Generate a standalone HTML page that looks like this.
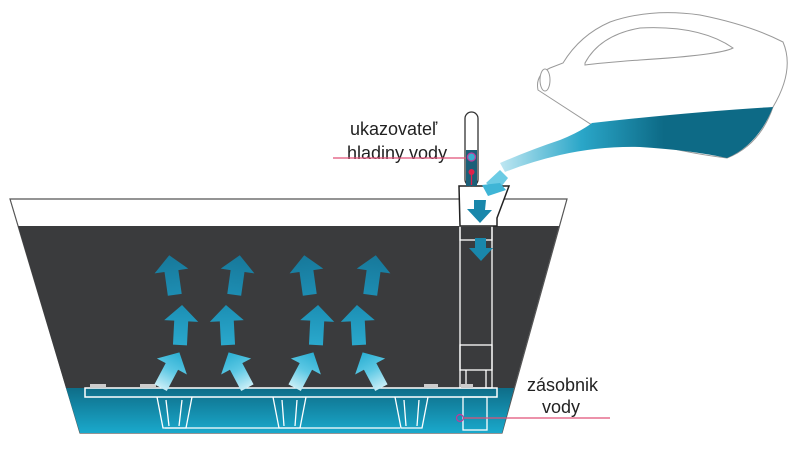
<!DOCTYPE html>
<html><head><meta charset="utf-8"><style>
html,body{margin:0;padding:0;background:#fff;}
svg{display:block}
text{font-family:"Liberation Sans",sans-serif;fill:#222;}
</style></head><body>
<svg width="800" height="457" viewBox="0 0 800 457" xmlns="http://www.w3.org/2000/svg">
<defs>
<linearGradient id="wat" x1="0" y1="0" x2="0" y2="1">
<stop offset="0" stop-color="#0e6d88"/><stop offset="1" stop-color="#1aa9cc"/></linearGradient>
<linearGradient id="arrB" x1="0" y1="1" x2="0" y2="0">
<stop offset="0" stop-color="#c8eef7"/><stop offset="0.5" stop-color="#5cc8e4"/><stop offset="1" stop-color="#2aaed2"/></linearGradient>
<linearGradient id="arrM" x1="0" y1="1" x2="0" y2="0">
<stop offset="0" stop-color="#2aa8cc"/><stop offset="1" stop-color="#1c8fb4"/></linearGradient>
<linearGradient id="arrT" x1="0" y1="1" x2="0" y2="0">
<stop offset="0" stop-color="#1d8db2"/><stop offset="1" stop-color="#17789a"/></linearGradient>
<linearGradient id="can" x1="0" y1="0" x2="1" y2="0">
<stop offset="0" stop-color="#bfe7f2"/><stop offset="0.3" stop-color="#2aa6c8"/><stop offset="0.6" stop-color="#0d6a86"/><stop offset="1" stop-color="#0d6a86"/></linearGradient>
<path id="a" d="M-7,20 L-7,-4 L-17,-4 L0,-20 L17,-4 L7,-4 L7,20 Z"/>
</defs>
<!-- pot -->
<polygon points="10,199 567,199 502,433 80,433" fill="#fff" stroke="#555" stroke-width="1.2"/>
<polygon points="18,226 559,226 514,388 66,388" fill="#3a3b3d"/>
<polygon points="66,388 514,388 502,433 80,433" fill="url(#wat)"/>
<!-- platform -->
<rect x="85" y="388" width="412" height="9" fill="none" stroke="#fff" stroke-width="1.5"/>
<g fill="none" stroke="#fff" stroke-width="1.3">
<path d="M157,397 L163,428 L186,428 L192,397"/><path d="M166,400 L169,426 M182,400 L179,426"/>
<path d="M273,397 L279,428 L300,428 L306,397"/><path d="M282,400 L284,426 M297,400 L295,426"/>
<path d="M395,397 L401,428 L422,428 L428,397"/><path d="M404,400 L406,426 M419,400 L417,426"/>
<line x1="165" y1="428" x2="400" y2="428"/>
<rect x="463" y="397" width="24" height="33"/>
<rect x="460" y="226" width="32" height="162"/>
<rect x="460" y="226" width="32" height="14"/>
<rect x="460" y="345" width="32" height="25"/>
<line x1="466" y1="370" x2="466" y2="388"/><line x1="486" y1="370" x2="486" y2="388"/>
</g>
<rect x="90" y="384" width="16" height="4" fill="#ccc"/><rect x="140" y="384" width="16" height="4" fill="#ccc"/>
<rect x="424" y="384" width="14" height="4" fill="#ccc"/><rect x="461" y="384" width="12" height="4" fill="#ccc"/>
<!-- funnel -->
<path d="M459,186 L509,186 L497,218 L497,226 L460,226 Z" fill="#fff" stroke="#222" stroke-width="1.5"/>
<!-- indicator tube -->
<rect x="465" y="112" width="13" height="74" rx="6.5" fill="#fff" stroke="#333" stroke-width="1.3"/>
<rect x="466" y="150" width="11" height="36" fill="#1b5f78"/>
<circle cx="471.5" cy="157" r="4" fill="#3ab0d0" stroke="#c03a9a" stroke-width="1.3"/>
<line x1="471.5" y1="173" x2="471.5" y2="185" stroke="#e0204a" stroke-width="1.3"/>
<circle cx="471.5" cy="172" r="3" fill="#e0204a"/>
<!-- watering can -->
<path d="M538,90 Q535,75 550,68 L563,63 Q580,35 610,22 Q650,8 700,15 Q750,25 783,42 Q795,70 773,107 Q760,145 727,158 Q660,150 592,125 Z" fill="#fff" stroke="#999" stroke-width="1"/>
<path d="M592,123 Q690,112 773,107 Q758,145 727,158 Q690,150 640,147 Q600,146 560,155 Q530,162 505,172 L500,163 Q530,150 560,140 Q580,132 592,123 Z" fill="url(#can)"/>
<path d="M585,63 Q600,35 640,28 Q700,25 733,48 Q720,55 640,60 Q600,63 585,65 Z" fill="#fff" stroke="#999" stroke-width="1"/>
<ellipse cx="545" cy="80" rx="5" ry="11" fill="#fff" stroke="#999" stroke-width="1"/>
<path d="M500,170 L486,183 L497,192 L508,178 Z" fill="#6ccbe4"/>
<path d="M482,185 L500,183 L506,190 L488,196 Z" fill="#3fb5d6"/>
<!-- down arrows -->
<g fill="#1987ab"><path d="M474,200 L486,200 L485,210 L492,210 L480,223 L467,209 L474,209 Z"/>
<path d="M475,238 L486,238 L486,248 L493,248 L481,261 L469,248 L475,248 Z"/></g>
<!-- up arrows -->
<use href="#a" fill="url(#arrT)" transform="translate(172,275) rotate(-8)"/>
<use href="#a" fill="url(#arrT)" transform="translate(237,275) rotate(8)"/>
<use href="#a" fill="url(#arrT)" transform="translate(307,275) rotate(-8)"/>
<use href="#a" fill="url(#arrT)" transform="translate(373,275) rotate(8)"/>
<use href="#a" fill="url(#arrM)" transform="translate(181,325) rotate(3)"/>
<use href="#a" fill="url(#arrM)" transform="translate(227,325) rotate(-3)"/>
<use href="#a" fill="url(#arrM)" transform="translate(317,325) rotate(3)"/>
<use href="#a" fill="url(#arrM)" transform="translate(358,325) rotate(-3)"/>
<use href="#a" fill="url(#arrB)" transform="translate(170,370) rotate(28)"/>
<use href="#a" fill="url(#arrB)" transform="translate(238,370) rotate(-28)"/>
<use href="#a" fill="url(#arrB)" transform="translate(304,370) rotate(28)"/>
<use href="#a" fill="url(#arrB)" transform="translate(372,370) rotate(-28)"/>
<!-- labels -->
<text x="350" y="135" font-size="18">ukazovateľ</text>
<text x="347" y="159" font-size="18">hladiny vody</text>
<line x1="333" y1="158" x2="466" y2="158" stroke="#e05078" stroke-width="1.2"/>
<text x="527" y="391" font-size="18">zásobnik</text>
<text x="542" y="413" font-size="18">vody</text>
<circle cx="460" cy="418" r="3.5" fill="none" stroke="#c03a9a" stroke-width="1.2"/>
<line x1="464" y1="418" x2="610" y2="418" stroke="#e05078" stroke-width="1.2"/>
</svg>
</body></html>
